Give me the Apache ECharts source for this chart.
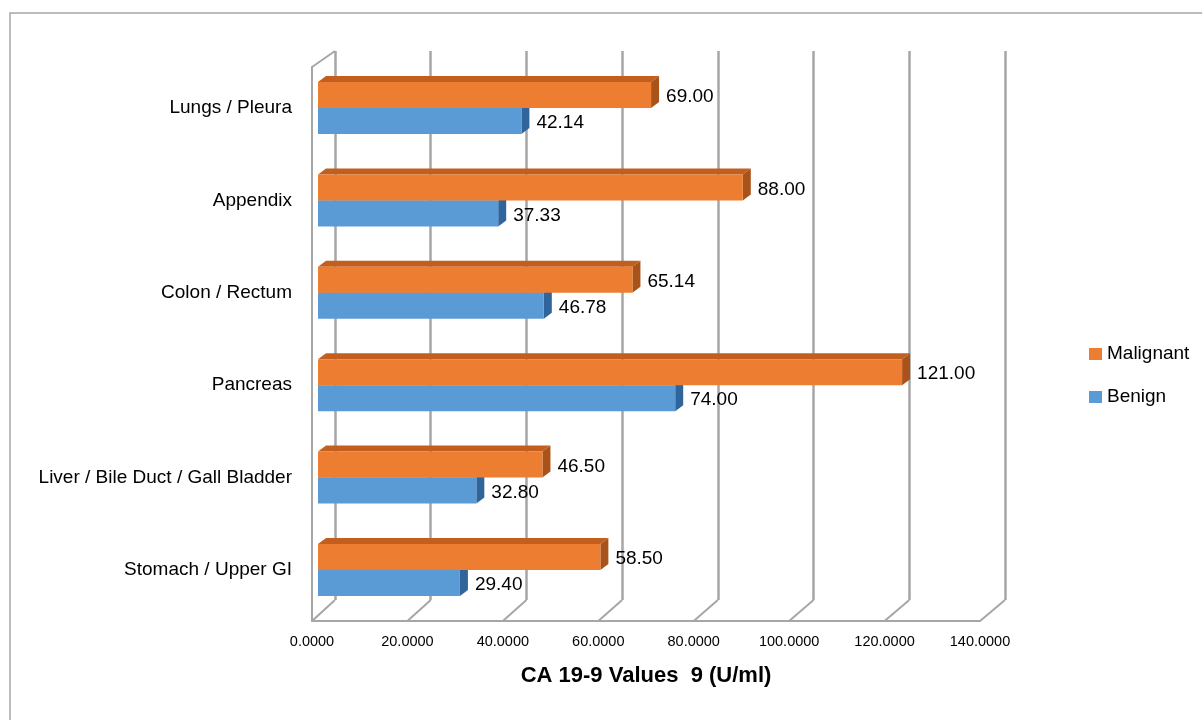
<!DOCTYPE html>
<html>
<head>
<meta charset="utf-8">
<title>CA 19-9 Values</title>
<script src="https://cdn.jsdelivr.net/npm/echarts@6/dist/echarts.min.js"></script>
<style>
  html, body { margin: 0; padding: 0; background: #fff; }
  #main { width: 1202px; height: 720px; }
</style>
</head>
<body>
<div id="main"></div>
<script>
  // categories, bottom to top as they sit on the axis
  const sites = ['Stomach / Upper GI', 'Liver / Bile Duct / Gall Bladder', 'Pancreas', 'Colon / Rectum', 'Appendix', 'Lungs / Pleura'];
  const benign = [29.40, 32.80, 74.00, 46.78, 37.33, 42.14];
  const malignant = [58.50, 46.50, 121.00, 65.14, 88.00, 69.00];
  const xTicks = [0, 20, 40, 60, 80, 100, 120, 140];

  const FONT = "'Liberation Sans', Arial, sans-serif";
  const LINE = '#a6a6a6';
  const BAR_H = 26, DX = 8, DY = 6;

  // 3d-looking bar: front rect, top face, side face, value label
  function bar3d(front, top, side, below) {
    return function (params, api) {
      const v = api.value(0);
      const end = api.coord([v, api.value(1)]);
      const start = api.coord([0, api.value(1)]);
      const y0 = below ? end[1] : end[1] - BAR_H;
      const y1 = y0 + BAR_H;
      const x0 = start[0], x1 = end[0];
      return {
        type: 'group',
        children: [
          { type: 'polygon', shape: { points: [[x0, y0], [x0 + DX, y0 - DY], [x1 + DX, y0 - DY], [x1, y0]] }, style: { fill: top } },
          { type: 'polygon', shape: { points: [[x1, y0], [x1 + DX, y0 - DY], [x1 + DX, y1 - DY], [x1, y1]] }, style: { fill: side } },
          { type: 'rect', shape: { x: x0, y: y0, width: x1 - x0, height: BAR_H }, style: { fill: front } },
          { type: 'text', style: { text: v.toFixed(2), x: x1 + DX + 7, y: (y0 + y1) / 2 + 2, verticalAlign: 'middle', font: '19px ' + FONT, fill: '#000' } }
        ]
      };
    };
  }

  const chart = echarts.init(document.getElementById('main'));
  chart.setOption({
    animation: false,
    textStyle: { fontFamily: FONT },
    legend: {
      orient: 'vertical',
      left: 1084,
      top: 339,
      itemWidth: 13,
      itemHeight: 12,
      itemGap: 23,
      icon: 'rect',
      data: ['Malignant', 'Benign'],
      textStyle: { fontSize: 19, lineHeight: 20, color: '#000' }
    },
    grid: [
      { left: 318, top: 61.8, width: 675.8, height: 554.4 }, // bars
      { left: 312, top: 67, width: 668, height: 554 },       // front edge / floor
      { left: 335, top: 51, width: 670, height: 549 }        // back wall
    ],
    xAxis: [
      { gridIndex: 0, type: 'value', min: 0, max: 140, show: false },
      {
        gridIndex: 1, type: 'value', min: 0, max: 140, interval: 20,
        axisLine: { show: true, lineStyle: { color: LINE, width: 2 } },
        axisTick: { show: false },
        splitLine: { show: false },
        axisLabel: { formatter: v => v.toFixed(4), fontSize: 14.5, color: '#000', margin: 13 },
        name: 'CA 19-9 Values  9 (U/ml)',
        nameLocation: 'middle',
        nameGap: 44,
        nameTextStyle: { fontWeight: 'bold', fontSize: 22, color: '#000' }
      },
      {
        gridIndex: 2, type: 'value', min: 0, max: 140, interval: 20,
        axisLine: { show: false }, axisTick: { show: false }, axisLabel: { show: false },
        splitLine: { show: true, lineStyle: { color: LINE, width: 2.5 } }
      }
    ],
    yAxis: [
      {
        gridIndex: 0, type: 'category', data: sites,
        axisLine: { show: false }, axisTick: { show: false },
        axisLabel: { fontSize: 19, color: '#000', margin: 26, padding: [10, 0, 0, 0] }
      },
      {
        gridIndex: 1, type: 'value', min: 0, max: 1,
        axisLine: { show: true, lineStyle: { color: LINE, width: 2 } },
        axisTick: { show: false }, axisLabel: { show: false }, splitLine: { show: false }
      },
      { gridIndex: 2, type: 'value', min: 0, max: 1, show: false }
    ],
    series: [
      {
        name: 'Benign', type: 'custom', xAxisIndex: 0, yAxisIndex: 0,
        itemStyle: { color: '#5b9bd5' },
        renderItem: bar3d('#5b9bd5', '#4a87c0', '#2f659a', true),
        encode: { x: 0, y: 1 },
        data: benign.map((v, i) => [v, i])
      },
      {
        name: 'Malignant', type: 'custom', xAxisIndex: 0, yAxisIndex: 0,
        itemStyle: { color: '#ed7d31' },
        renderItem: bar3d('#ed7d31', '#c35f1e', '#a9531a', false),
        encode: { x: 0, y: 1 },
        data: malignant.map((v, i) => [v, i])
      }
    ]
  });

  // floor diagonals and wall top, joining the front edge to the back wall
  const front = p => chart.convertToPixel({ gridIndex: 1 }, p);
  const back = p => chart.convertToPixel({ gridIndex: 2 }, p);
  const joins = xTicks.map(t => [front([t, 0]), back([t, 0])]);
  joins.push([front([0, 1]), back([0, 1])]);

  chart.setOption({
    graphic: [
      {
        type: 'rect', silent: true,
        shape: { x: 10, y: 13, width: 1400, height: 900 },
        style: { fill: null, stroke: '#a6a6a6', lineWidth: 1.5 }
      }
    ].concat(joins.map(j => ({
      type: 'line', silent: true,
      shape: { x1: j[0][0], y1: j[0][1], x2: j[1][0], y2: j[1][1] },
      style: { stroke: LINE, lineWidth: 2 }
    })))
  });
</script>
</body>
</html>
